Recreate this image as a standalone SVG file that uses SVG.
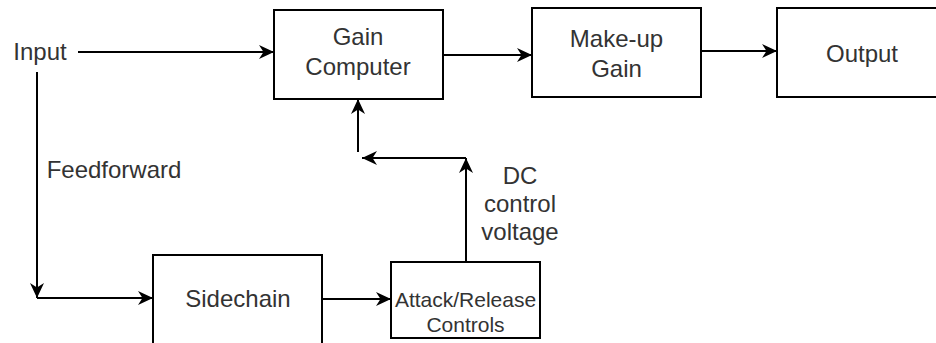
<svg xmlns="http://www.w3.org/2000/svg" width="936" height="343" viewBox="0 0 936 343">
<defs>
<style>
.box{fill:#fff;stroke:#000;stroke-width:2}
.t{font-family:"Liberation Sans",Arial,sans-serif;font-size:24px;fill:#333;text-anchor:middle}
.ts{font-family:"Liberation Sans",Arial,sans-serif;font-size:21px;fill:#333;text-anchor:middle}
.c{fill:none;stroke:#000;stroke-width:2}
</style>
<marker id="ar" markerUnits="userSpaceOnUse" markerWidth="18" markerHeight="16" refX="16" refY="8" orient="auto">
<path d="M1,1 L16,8 L1,15 L5.5,8 Z" fill="#000"/>
</marker>
</defs>
<rect width="936" height="343" fill="#fff"/>
<g id="connectors">
<path class="c" d="M78,52 H274" marker-end="url(#ar)"/>
<path class="c" d="M443,55 H532" marker-end="url(#ar)"/>
<path class="c" d="M701,51 H777" marker-end="url(#ar)"/>
<path class="c" d="M37,72 V298" marker-end="url(#ar)"/>
<path class="c" d="M37,298 H153" marker-end="url(#ar)"/>
<path class="c" d="M322,299 H391" marker-end="url(#ar)"/>
<path class="c" d="M466,262 V158" marker-end="url(#ar)"/>
<path class="c" d="M466,158 H362" marker-end="url(#ar)"/>
<path class="c" d="M358,152 V99" marker-end="url(#ar)"/>
</g>
<g id="input"><text class="t" x="40" y="60">Input</text></g>
<g id="feedforward"><text class="t" x="114" y="178">Feedforward</text></g>
<g id="gain-computer">
<rect class="box" x="274" y="10" width="169" height="89"/>
<text class="t" x="358" y="45">Gain</text>
<text class="t" x="358" y="75">Computer</text>
</g>
<g id="makeup-gain">
<rect class="box" x="532" y="8" width="169" height="89"/>
<text class="t" x="616.5" y="47">Make-up</text>
<text class="t" x="616.5" y="77">Gain</text>
</g>
<g id="output">
<rect class="box" x="777" y="8" width="169" height="89"/>
<text class="t" x="862" y="62">Output</text>
</g>
<g id="sidechain">
<rect class="box" x="153" y="255" width="169" height="100"/>
<text class="t" x="238" y="307">Sidechain</text>
</g>
<g id="attack-release">
<rect class="box" x="391" y="262" width="149" height="76"/>
<text class="ts" x="465.5" y="307">Attack/Release</text>
<text class="ts" x="465.5" y="332">Controls</text>
</g>
<g id="dc-label">
<text class="t" x="520" y="184">DC</text>
<text class="t" x="520" y="212">control</text>
<text class="t" x="520" y="240">voltage</text>
</g>
</svg>
